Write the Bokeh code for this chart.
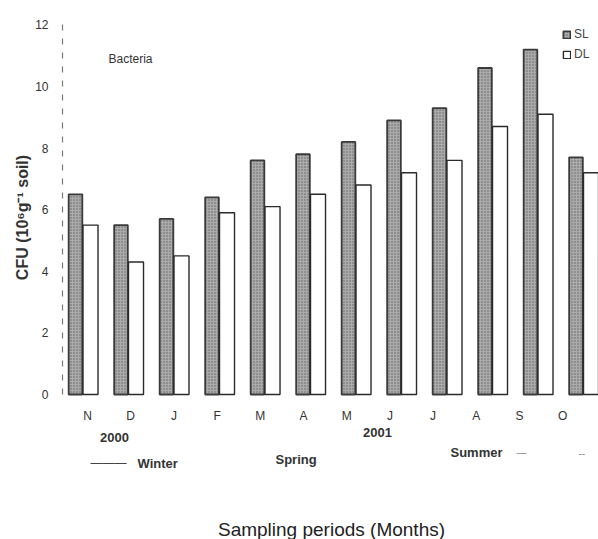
import math
from bokeh.plotting import figure
from bokeh.models import Range1d, FixedTicker, Label, Legend, LegendItem, CustomJSTickFormatter
from bokeh.embed import file_html
from bokeh.resources import INLINE

# ---- data ----
months = ["N", "D", "J", "F", "M", "A", "M", "J", "J", "A", "S", "O"]
sl_values = [6.5, 5.5, 5.7, 6.4, 7.6, 7.8, 8.2, 8.9, 9.3, 10.6, 11.2, 7.7]
dl_values = [5.5, 4.3, 4.5, 5.9, 6.1, 6.5, 6.8, 7.2, 7.6, 8.7, 9.1, 7.2]
y_ticks = [0, 2, 4, 6, 8, 10, 12]
series_names = ["SL", "DL"]
year_labels = ["2000", "2001"]
season_labels = ["Winter", "Spring", "Summer"]
panel_label = "Bacteria"
y_title = "CFU (10\u2076g\u207b\u00b9 soil)"
x_title = "Sampling periods (Months)"

# ---- layout (frame covers the whole figure; axes are pinned inside) ----
W, H = 598, 539
PX_X, PX_Y = 45.5, 30.8           # pixels per data unit
x0 = -82.5 / PX_X
x1 = x0 + W / PX_X
y1 = 394 / PX_Y
y0 = y1 - H / PX_Y
FONT = "Liberation Sans"


def dx(px):
    return x0 + px / PX_X


def dy(py):
    return y1 - py / PX_Y


p = figure(width=W, height=H, output_backend="svg", toolbar_location=None,
           x_range=Range1d(x0, x1), y_range=Range1d(y0, y1))
p.min_border = 0
p.outline_line_color = None
p.xgrid.visible = False
p.ygrid.visible = False
p.background_fill_color = "white"
p.border_fill_color = "white"

idx = list(range(len(months)))
sl_x = [i - 0.165 for i in idx]
dl_x = [i + 0.165 for i in idx]

r_sl = p.vbar(x=sl_x, top=sl_values, bottom=0, width=0.30,
              fill_color="#ababab", line_color="#3a3a3a", line_width=1.8,
              hatch_pattern="dot", hatch_color="#606060", hatch_scale=3, hatch_weight=1)
r_dl = p.vbar(x=dl_x, top=dl_values, bottom=0, width=0.33,
              fill_color="white", line_color="#2a2a2a", line_width=1.4)

# x axis pinned at y = 0: month letters
tick_pos = [dx(87 + 43.2 * i) for i in idx]
p.xaxis.fixed_location = 0
p.xaxis.ticker = FixedTicker(ticks=tick_pos)
p.xaxis.formatter = CustomJSTickFormatter(args=dict(labels=months),
                                          code="return labels[index] || '';")
p.xaxis.axis_line_color = None
p.xaxis.major_tick_line_color = None
p.xaxis.minor_tick_line_color = None
p.xaxis.major_label_standoff = 8
p.xaxis.major_label_text_font = FONT
p.xaxis.major_label_text_font_size = "12px"
p.xaxis.major_label_text_color = "#333333"

# y axis pinned at the left edge of the plotting area
p.yaxis.fixed_location = dx(62)
p.yaxis.bounds = (y_ticks[0], y_ticks[-1])
p.yaxis.ticker = FixedTicker(ticks=y_ticks)
p.yaxis.axis_line_color = "#777777"
p.yaxis.axis_line_dash = "6 8"
p.yaxis.axis_line_width = 1.2
p.yaxis.major_tick_line_color = None
p.yaxis.minor_tick_line_color = None
p.yaxis.major_label_standoff = 8
p.yaxis.major_label_text_font = FONT
p.yaxis.major_label_text_font_size = "12px"
p.yaxis.major_label_text_color = "#333333"

# legend
legend = Legend(items=[LegendItem(label=series_names[0], renderers=[r_sl]),
                       LegendItem(label=series_names[1], renderers=[r_dl])],
                location=(562, 478), border_line_color=None,
                background_fill_alpha=0, glyph_width=9, glyph_height=9,
                label_text_font=FONT, label_text_font_size="12px",
                label_text_color="#444444", label_standoff=3,
                spacing=6, padding=1, margin=0, label_height=13)
p.add_layout(legend)


def add_text(txt, px, py, size="13px", bold=True, align="left",
             color="#333333", angle=0.0):
    p.add_layout(Label(x=dx(px), y=dy(py), text=txt, text_font=FONT,
                       text_font_size=size, text_font_style="bold" if bold else "normal",
                       text_align=align, text_baseline="middle", text_color=color,
                       angle=angle))


add_text(y_title, 22, 217, size="16px", bold=True, align="center", angle=math.pi / 2)
add_text(panel_label, 108, 58, size="12px", bold=False)
add_text(year_labels[0], 114, 437, align="center")
add_text(year_labels[1], 377, 432, align="center")
add_text(season_labels[0], 137, 463)
add_text(season_labels[1], 275, 459)
add_text(season_labels[2], 450, 452)
add_text("\u2014\u2014\u2014", 90, 462, size="12px", bold=False, color="#444444")
add_text("\u2014", 516, 452, size="10px", bold=False, color="#888888")
add_text("--", 578, 452, size="10px", bold=False, color="#888888")
add_text(x_title, 331, 529, size="19px", bold=False, align="center", color="#222222")

open("out.html", "w").write(file_html(p, INLINE))
